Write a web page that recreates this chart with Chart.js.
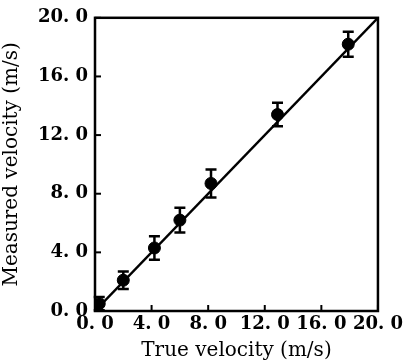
<!DOCTYPE html>
<html>
<head>
<meta charset="utf-8">
<script src="https://cdn.jsdelivr.net/npm/chart.js@4.4.1/dist/chart.umd.min.js"></script>
<style>
  html, body { margin: 0; padding: 0; background: #fff; }
  #wrap { width: 406px; height: 363px; position: relative; }
</style>
</head>
<body>
<div id="wrap"><canvas id="c"></canvas></div>
<script>
const trueVelocity = [0.3, 2.0, 4.2, 6.0, 8.2, 12.9, 17.9];
const measuredVelocity = [0.5, 2.1, 4.3, 6.2, 8.7, 13.4, 18.2];
const errorHalf = [0.45, 0.6, 0.8, 0.85, 0.95, 0.8, 0.85];
const fitLine = [[0, 0], [20, 20]];
const tickValues = [0, 4, 8, 12, 16, 20];
const xTitle = 'True velocity (m/s)';
const yTitle = 'Measured velocity (m/s)';

const fmt = v => Number(v).toFixed(1).replace('.', '. ');
const FONT = '"DejaVu Serif", "Liberation Serif", serif';

const frame = {
  id: 'frame',
  afterDatasetsDraw(chart) {
    const ctx = chart.ctx, a = chart.chartArea;
    const xs = chart.scales.x, ys = chart.scales.y;
    ctx.save();
    ctx.strokeStyle = '#000';
    ctx.lineWidth = 2.5;
    ctx.strokeRect(a.left, a.top, a.right - a.left, a.bottom - a.top);
    ctx.lineWidth = 2;
    tickValues.forEach(v => {
      const px = xs.getPixelForValue(v);
      ctx.beginPath(); ctx.moveTo(px, a.bottom); ctx.lineTo(px, a.bottom - 6); ctx.stroke();
      const py = ys.getPixelForValue(v);
      ctx.beginPath(); ctx.moveTo(a.left, py); ctx.lineTo(a.left + 6, py); ctx.stroke();
    });
    ctx.restore();
  }
};

const errorBars = {
  id: 'errorBars',
  afterDatasetsDraw(chart) {
    const ctx = chart.ctx;
    const xs = chart.scales.x, ys = chart.scales.y;
    ctx.save();
    ctx.strokeStyle = '#000';
    ctx.lineWidth = 2.5;
    trueVelocity.forEach((xv, i) => {
      const px = xs.getPixelForValue(xv);
      const top = ys.getPixelForValue(measuredVelocity[i] + errorHalf[i]);
      const bot = ys.getPixelForValue(measuredVelocity[i] - errorHalf[i]);
      ctx.beginPath();
      ctx.moveTo(px, top); ctx.lineTo(px, bot);
      ctx.moveTo(px - 5.5, top); ctx.lineTo(px + 5.5, top);
      ctx.moveTo(px - 5.5, bot); ctx.lineTo(px + 5.5, bot);
      ctx.stroke();
    });
    ctx.restore();
  }
};

new Chart(document.getElementById('c'), {
  type: 'scatter',
  data: {
    datasets: [
      {
        type: 'line',
        data: fitLine.map(p => ({ x: p[0], y: p[1] })),
        borderColor: '#000',
        borderWidth: 2.4,
        pointRadius: 0,
        fill: false,
        order: 2
      },
      {
        data: trueVelocity.map((x, i) => ({ x: x, y: measuredVelocity[i] })),
        backgroundColor: '#000',
        borderColor: '#000',
        pointRadius: 6,
        order: 1
      }
    ]
  },
  options: {
    responsive: true,
    maintainAspectRatio: false,
    animation: false,
    layout: { padding: { top: 16, right: 27, left: 0, bottom: 0 } },
    plugins: { legend: { display: false }, tooltip: { enabled: false } },
    scales: {
      x: {
        type: 'linear', min: 0, max: 20,
        afterBuildTicks: s => { s.ticks = tickValues.map(v => ({ value: v })); },
        afterFit: s => { s.height = 52; },
        grid: { display: false, drawTicks: false },
        border: { display: false },
        ticks: { callback: fmt, color: '#000', padding: 3, maxRotation: 0, autoSkip: false,
                 font: { family: FONT, size: 18, weight: 'bold' } },
        title: { display: true, text: xTitle, color: '#000', padding: { top: 0, bottom: 0 },
                 font: { family: FONT, size: 20 } }
      },
      y: {
        type: 'linear', min: 0, max: 20,
        afterBuildTicks: s => { s.ticks = tickValues.map(v => ({ value: v })); },
        afterFit: s => { s.width = 95; },
        grid: { display: false, drawTicks: false },
        border: { display: false },
        ticks: { callback: fmt, color: '#000', padding: 7, autoSkip: false,
                 font: { family: FONT, size: 18, weight: 'bold' } },
        title: { display: true, text: yTitle, color: '#000', padding: { top: 0, bottom: 2 },
                 font: { family: FONT, size: 20 } }
      }
    }
  },
  plugins: [frame, errorBars]
});
</script>
</body>
</html>
